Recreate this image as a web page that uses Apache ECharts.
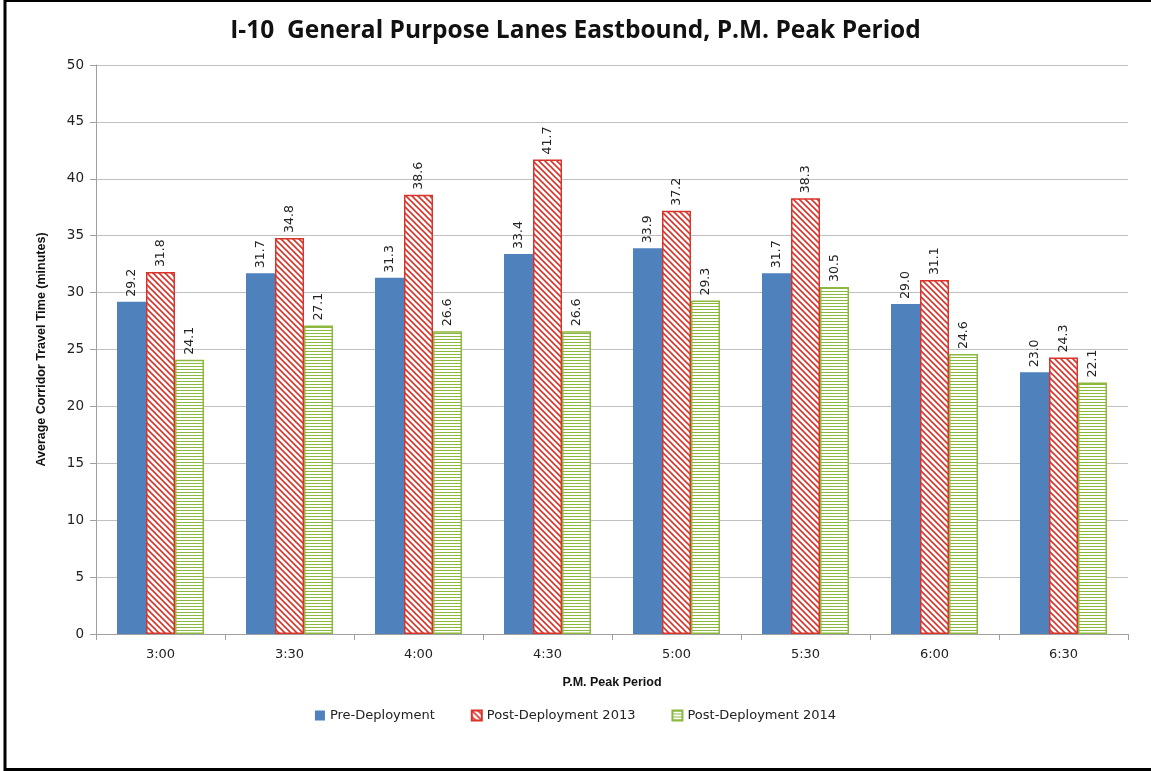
<!DOCTYPE html>
<html>
<head>
<meta charset="utf-8">
<script src="https://cdn.jsdelivr.net/npm/echarts@6/dist/echarts.min.js"></script>
<style>
  html, body { margin: 0; padding: 0; background: #fff; }
  #main { width: 1151px; height: 771px; }
</style>
</head>
<body>
<div id="main"></div>
<script>
var periods = ['3:00', '3:30', '4:00', '4:30', '5:00', '5:30', '6:00', '6:30'];
var preDeployment = [29.2, 31.7, 31.3, 33.4, 33.9, 31.7, 29.0, 23.0];
var post2013 = [31.8, 34.8, 38.6, 41.7, 37.2, 38.3, 31.1, 24.3];
var post2014 = [24.1, 27.1, 26.6, 26.6, 29.3, 30.5, 24.6, 22.1];

// hatch patterns like the excel fills
function diagHatch(color) {
  var c = document.createElement('canvas');
  c.width = 6; c.height = 6;
  var ctx = c.getContext('2d');
  ctx.fillStyle = '#fff';
  ctx.fillRect(0, 0, 6, 6);
  ctx.strokeStyle = color;
  ctx.lineWidth = 1.6;
  ctx.beginPath();
  ctx.moveTo(-1, -1); ctx.lineTo(7, 7);
  ctx.moveTo(-4, 2); ctx.lineTo(2, 8);
  ctx.moveTo(2, -4); ctx.lineTo(8, 2);
  ctx.stroke();
  return c;
}
function horizHatch(color) {
  var c = document.createElement('canvas');
  c.width = 4; c.height = 3;
  var ctx = c.getContext('2d');
  ctx.fillStyle = '#fff';
  ctx.fillRect(0, 0, 4, 3);
  ctx.fillStyle = color;
  ctx.fillRect(0, 0, 4, 1);
  return c;
}

var labelOpt = {
  show: true,
  position: 'top',
  rotate: 90,
  align: 'left',
  verticalAlign: 'middle',
  distance: 5,
  fontFamily: 'DejaVu Sans',
  fontSize: 12.5,
  color: '#222',
  formatter: function (p) { return p.value.toFixed(1); }
};

var chart = echarts.init(document.getElementById('main'));

var option = {
  backgroundColor: '#fff',
  animation: false,
  title: {
    text: 'I-10  General Purpose Lanes Eastbound, P.M. Peak Period',
    left: 'center',
    top: 14,
    textStyle: { fontFamily: 'Open Sans', fontWeight: 'bold', fontSize: 24.5, color: '#111' }
  },
  legend: {
    bottom: 44,
    left: 'center',
    icon: 'rect',
    itemWidth: 10,
    itemHeight: 10,
    itemGap: 36,
    textStyle: { fontFamily: 'DejaVu Sans', fontSize: 13, color: '#222' },
    data: ['Pre-Deployment', 'Post-Deployment 2013', 'Post-Deployment 2014']
  },
  grid: { left: 96, right: 23, top: 65, bottom: 137 },
  xAxis: {
    type: 'category',
    data: periods,
    name: 'P.M. Peak Period',
    nameLocation: 'middle',
    nameGap: 42,
    nameTextStyle: { fontFamily: 'Liberation Sans', fontWeight: 'bold', fontSize: 12.5, color: '#111' },
    axisLine: { lineStyle: { color: '#a0a0a0' } },
    axisTick: { show: true, length: 6, lineStyle: { color: '#a0a0a0' } },
    axisLabel: { fontFamily: 'DejaVu Sans', fontSize: 13, color: '#222', margin: 14 }
  },
  yAxis: {
    type: 'value',
    min: 0,
    max: 50,
    interval: 5,
    name: 'Average Corridor Travel Time (minutes)',
    nameLocation: 'middle',
    nameGap: 48,
    nameTextStyle: { fontFamily: 'Liberation Sans', fontWeight: 'bold', fontSize: 12.5, color: '#111' },
    axisLine: { show: true, lineStyle: { color: '#a0a0a0' } },
    axisTick: { show: true, length: 6, lineStyle: { color: '#a0a0a0' } },
    axisLabel: { fontFamily: 'DejaVu Sans', fontSize: 13.5, color: '#222', margin: 12 },
    splitLine: { lineStyle: { color: '#c0c0c0', width: 1 } }
  },
  series: [
    {
      name: 'Pre-Deployment',
      type: 'bar',
      data: preDeployment,
      barWidth: 29,
      barGap: '0%',
      itemStyle: { color: '#4F81BD' },
      label: labelOpt
    },
    {
      name: 'Post-Deployment 2013',
      type: 'bar',
      data: post2013,
      barWidth: 29,
      barGap: '0%',
      itemStyle: {
        color: { image: diagHatch('#D9342B'), repeat: 'repeat' },
        borderColor: '#D9342B',
        borderWidth: 1.5
      },
      label: labelOpt
    },
    {
      name: 'Post-Deployment 2014',
      type: 'bar',
      data: post2014,
      barWidth: 29,
      barGap: '0%',
      itemStyle: {
        color: { image: horizHatch('#8DB83F'), repeat: 'repeat' },
        borderColor: '#8DB83F',
        borderWidth: 1.5
      },
      label: labelOpt
    }
  ],
  graphic: [
    { type: 'line', shape: { x1: 5, y1: 1, x2: 1151, y2: 1 }, style: { stroke: '#000', lineWidth: 2 } },
    { type: 'line', shape: { x1: 5, y1: 0, x2: 5, y2: 771 }, style: { stroke: '#000', lineWidth: 3 } },
    { type: 'line', shape: { x1: 5, y1: 769.5, x2: 1151, y2: 769.5 }, style: { stroke: '#000', lineWidth: 3 } }
  ]
};

chart.setOption(option);
</script>
</body>
</html>
